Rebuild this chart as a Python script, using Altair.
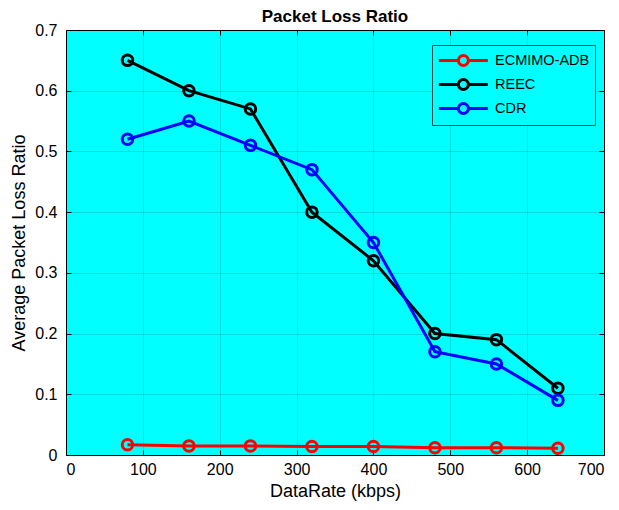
import altair as alt
import pandas as pd

data_rate = [80, 160, 240, 320, 400, 480, 560, 640]
ecmimo_adb = [0.017, 0.015, 0.015, 0.014, 0.014, 0.012, 0.012, 0.011]
reec = [0.65, 0.60, 0.57, 0.40, 0.32, 0.20, 0.19, 0.11]
cdr = [0.52, 0.55, 0.51, 0.47, 0.35, 0.17, 0.15, 0.09]
series_names = ["ECMIMO-ADB", "REEC", "CDR"]
series_colors = ["#ff0000", "#000000", "#0000ff"]
x_ticks = [0, 100, 200, 300, 400, 500, 600, 700]
y_ticks = [0, 0.1, 0.2, 0.3, 0.4, 0.5, 0.6, 0.7]

rows = []
for name, vals in zip(series_names, [ecmimo_adb, reec, cdr]):
    for x, y in zip(data_rate, vals):
        rows.append({"DataRate": x, "Loss": y, "Series": name})
df = pd.DataFrame(rows)

FONT = "Liberation Sans"
xscale = alt.Scale(domain=[0, 700], nice=False)
yscale = alt.Scale(domain=[0, 0.7], nice=False)

legend_symbol = (
    "M-1,0L1.25,0M2.41,0L4.66,0"
    "M1.25,0A0.58,0.58 0 1,1 2.41,0A0.58,0.58 0 1,1 1.25,0"
)

color = alt.Color(
    "Series:N",
    scale=alt.Scale(domain=series_names, range=series_colors),
    legend=alt.Legend(
        title=None,
        orient="none",
        legendX=366,
        legendY=15,
        symbolType=legend_symbol,
        symbolSize=300,
        symbolStrokeWidth=3,
        symbolFillColor="transparent",
        labelFont=FONT,
        labelFontSize=14.5,
        labelColor="#000000",
        fillColor="#00ffff",
        strokeColor="#1a4a4a",
        padding=5,
        rowPadding=1,
        labelOffset=37,
    ),
)

lines = alt.Chart(df).mark_line(
    strokeWidth=3,
    point=alt.OverlayMarkDef(shape="circle", size=110, strokeWidth=3, filled=False),
).encode(
    x=alt.X(
        "DataRate:Q",
        scale=xscale,
        title="DataRate (kbps)",
        axis=alt.Axis(
            values=x_ticks,
            format="d",
            offset=-5,
            tickSize=5,
            tickColor="#000000",
            labelPadding=6,
            domain=False,
            grid=True,
            gridColor="#000000",
            gridOpacity=0.13,
            labelFont=FONT,
            labelFontSize=16,
            labelColor="#000000",
            titleFont=FONT,
            titleFontSize=18,
            titleFontWeight="normal",
            titleColor="#000000",
            titlePadding=5,
        ),
    ),
    y=alt.Y(
        "Loss:Q",
        scale=yscale,
        title="Average Packet Loss Ratio",
        axis=alt.Axis(
            values=y_ticks,
            format="~g",
            offset=-5,
            tickSize=5,
            tickColor="#000000",
            labelPadding=9,
            domain=False,
            grid=True,
            gridColor="#000000",
            gridOpacity=0.13,
            labelFont=FONT,
            labelFontSize=16,
            labelColor="#000000",
            titleFont=FONT,
            titleFontSize=18,
            titleFontWeight="normal",
            titleColor="#000000",
            titlePadding=6,
        ),
    ),
    color=color,
    order="DataRate:Q",
)

# top and right tick-only axes
top_right = alt.Chart(pd.DataFrame({"DataRate": [0], "Loss": [0]})).mark_point(opacity=0).encode(
    x=alt.X(
        "DataRate:Q",
        scale=xscale,
        axis=alt.Axis(
            orient="top",
            values=x_ticks,
            labels=False,
            title=None,
            offset=-5,
            tickSize=5,
            tickColor="#000000",
            domain=False,
            grid=False,
        ),
    ),
    y=alt.Y(
        "Loss:Q",
        scale=yscale,
        axis=alt.Axis(
            orient="right",
            values=y_ticks,
            labels=False,
            title=None,
            offset=-5,
            tickSize=5,
            tickColor="#000000",
            domain=False,
            grid=False,
        ),
    ),
)

chart = (
    alt.layer(lines, top_right)
    .resolve_axis(x="independent", y="independent")
    .properties(
        width=538,
        height=425,
        title=alt.Title(
            "Packet Loss Ratio",
            font=FONT,
            fontSize=17,
            fontWeight="bold",
            color="#000000",
            offset=4,
            dy=8,
        ),
        autosize=alt.AutoSizeParams(type="none"),
        padding={"left": 58, "top": 22, "right": 5, "bottom": 47},
    )
    .configure_view(fill="#00ffff", stroke="#000000", strokeWidth=1)
)

chart.save("out.html", embed_options={"renderer": "svg", "actions": False})
